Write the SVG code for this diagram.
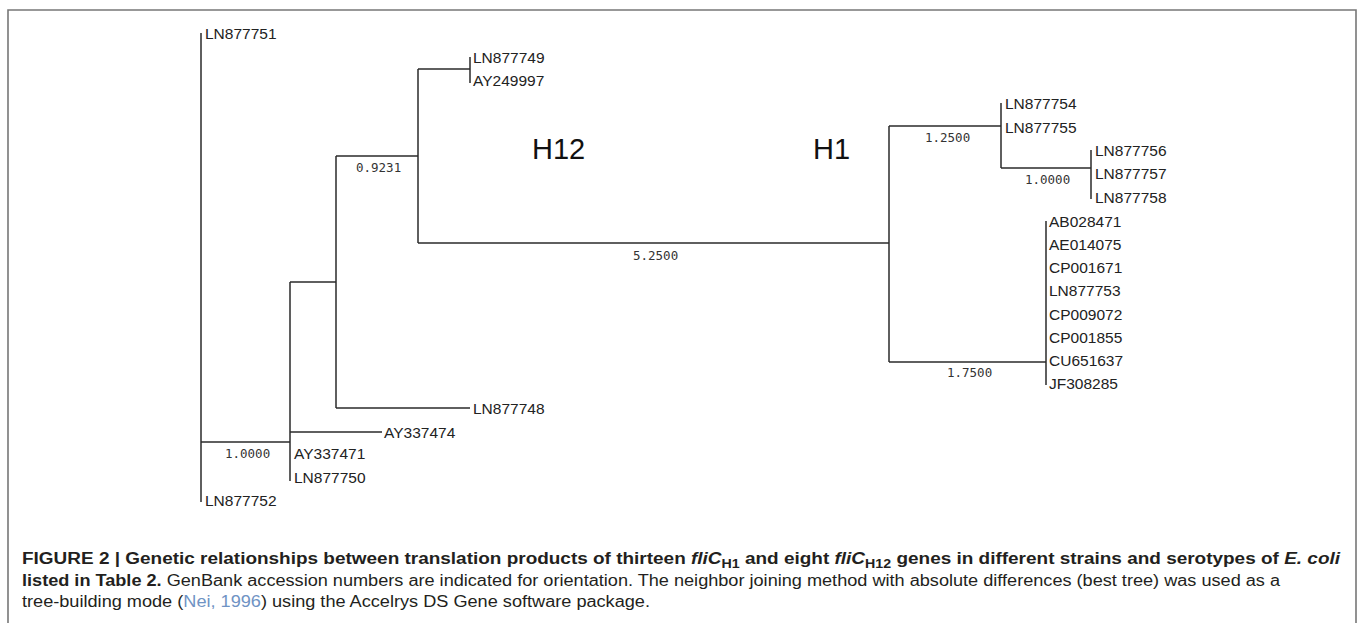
<svg xmlns="http://www.w3.org/2000/svg" width="1358" height="623" viewBox="0 0 1358 623">
<style>
.br{fill:none;stroke:#2a2a2a;stroke-width:1.5}
.lf{font-family:"Liberation Sans",Arial,sans-serif;font-size:15.5px;fill:#222}
.bl{font-family:"DejaVu Sans Mono","Liberation Mono",monospace;font-size:12.5px;fill:#333}
.cl{font-family:"Liberation Sans",Arial,sans-serif;font-size:29px;fill:#111}
.cap{font-family:"Liberation Sans",Arial,sans-serif;font-size:16px;fill:#231f20}
.b{font-weight:bold}
.i{font-style:italic}
.frame{fill:none;stroke:#777;stroke-width:1.6}
</style>
<rect width="1358" height="623" fill="#fff"/>
<path class="frame" d="M8,623 V10 H1356 V623"/>
<g id="connectors">
<path class="br" d="M201,33 V502"/>
<path class="br" d="M201,442 H290"/>
<path class="br" d="M290,282 V481"/>
<path class="br" d="M290,282 H336"/>
<path class="br" d="M290,432 H382"/>
<path class="br" d="M336,156 V408"/>
<path class="br" d="M336,156 H418"/>
<path class="br" d="M336,408 H470"/>
<path class="br" d="M418,69 V243"/>
<path class="br" d="M418,69 H470"/>
<path class="br" d="M470,57 V83"/>
<path class="br" d="M418,243 H889"/>
<path class="br" d="M889,126 V362"/>
<path class="br" d="M889,126 H1001"/>
<path class="br" d="M1001,103 V168"/>
<path class="br" d="M1001,168 H1091"/>
<path class="br" d="M1091,150 V199"/>
<path class="br" d="M889,362 H1046"/>
<path class="br" d="M1046,221 V385"/>
<text class="bl" x="225" y="457.5">1.0000</text>
<text class="bl" x="356" y="171.5">0.9231</text>
<text class="bl" x="633" y="259.5">5.2500</text>
<text class="bl" x="925" y="141.5">1.2500</text>
<text class="bl" x="1025" y="183.5">1.0000</text>
<text class="bl" x="947" y="376.5">1.7500</text>
</g>
<g id="clade-H12"><text class="cl" x="532" y="159">H12</text></g>
<g id="clade-H1"><text class="cl" x="813" y="159">H1</text></g>
<g id="LN877751"><text class="lf" x="205" y="38.5">LN877751</text></g>
<g id="LN877749"><text class="lf" x="473" y="62.5">LN877749</text></g>
<g id="AY249997"><text class="lf" x="473" y="85.5">AY249997</text></g>
<g id="LN877748"><text class="lf" x="473" y="413.5">LN877748</text></g>
<g id="AY337474"><text class="lf" x="384" y="437.5">AY337474</text></g>
<g id="AY337471"><text class="lf" x="294" y="458.5">AY337471</text></g>
<g id="LN877750"><text class="lf" x="294" y="482.5">LN877750</text></g>
<g id="LN877752"><text class="lf" x="205" y="505.5">LN877752</text></g>
<g id="LN877754"><text class="lf" x="1005" y="108.5">LN877754</text></g>
<g id="LN877755"><text class="lf" x="1005" y="132.5">LN877755</text></g>
<g id="LN877756"><text class="lf" x="1095" y="155.5">LN877756</text></g>
<g id="LN877757"><text class="lf" x="1095" y="178.5">LN877757</text></g>
<g id="LN877758"><text class="lf" x="1095" y="202.5">LN877758</text></g>
<g id="AB028471"><text class="lf" x="1049" y="226.5">AB028471</text></g>
<g id="AE014075"><text class="lf" x="1049" y="249.5">AE014075</text></g>
<g id="CP001671"><text class="lf" x="1049" y="272.5">CP001671</text></g>
<g id="LN877753"><text class="lf" x="1049" y="295.5">LN877753</text></g>
<g id="CP009072"><text class="lf" x="1049" y="319.5">CP009072</text></g>
<g id="CP001855"><text class="lf" x="1049" y="342.5">CP001855</text></g>
<g id="CU651637"><text class="lf" x="1049" y="365.5">CU651637</text></g>
<g id="JF308285"><text class="lf" x="1049" y="388.5">JF308285</text></g>
<g id="caption">
<text class="cap b" x="22" y="564" textLength="1318" lengthAdjust="spacingAndGlyphs">FIGURE 2 | Genetic relationships between translation products of thirteen <tspan class="i">fliC</tspan><tspan font-size="12" dy="4">H1</tspan><tspan dy="-4"> and eight </tspan><tspan class="i">fliC</tspan><tspan font-size="12" dy="4">H12</tspan><tspan dy="-4"> genes in different strains and serotypes of </tspan><tspan class="i">E. coli</tspan></text>
<text class="cap" x="22" y="585.5" textLength="1258" lengthAdjust="spacingAndGlyphs"><tspan class="b">listed in Table 2.</tspan> GenBank accession numbers are indicated for orientation. The neighbor joining method with absolute differences (best tree) was used as a</text>
<text class="cap" x="22" y="607" textLength="628" lengthAdjust="spacingAndGlyphs">tree-building mode (<tspan fill="#6f93c4">Nei, 1996</tspan>) using the Accelrys DS Gene software package.</text>
</g>
</svg>
